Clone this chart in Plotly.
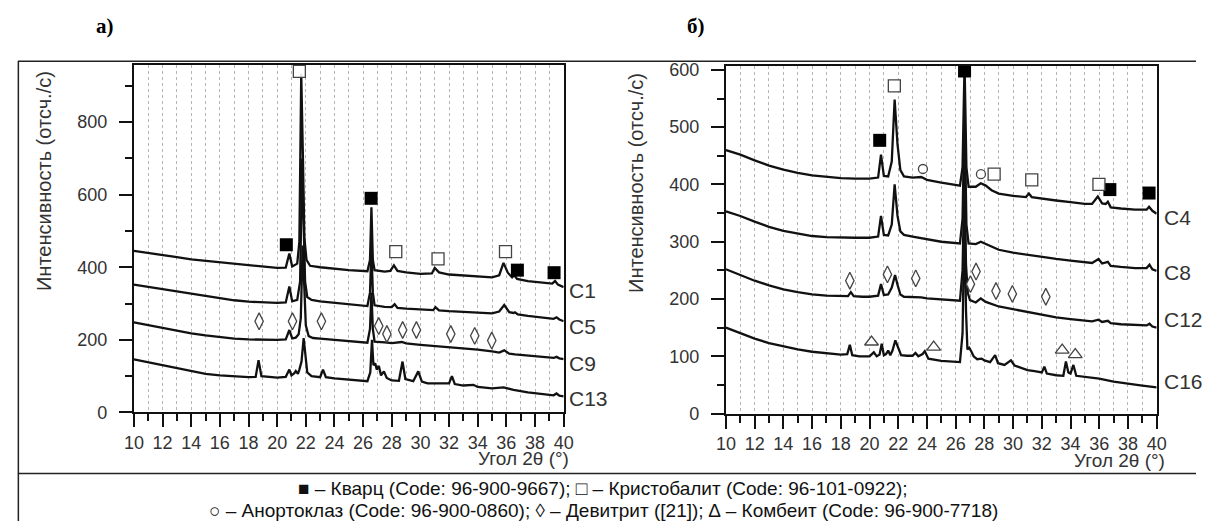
import plotly.graph_objects as go

# ---------------- DATA ----------------
# Panel а) : 2θ (deg) and intensity (counts/s)
c1_tt = [10, 11, 12, 13, 14, 15, 16, 17, 18, 19, 20, 20.6, 20.85, 21.05, 21.4, 21.55, 21.68, 21.8, 21.9, 22.05, 22.3,
         23, 24, 25, 26.3, 26.48, 26.58, 26.68, 26.8, 27.5, 27.9, 28.15, 28.4, 29, 30, 30.8, 31.0, 31.3, 32, 33, 34, 35,
         35.5, 35.8, 36.1, 36.4, 36.55, 36.75, 37.5, 38.5, 39.2, 39.4, 39.6, 40]
c1_int = [445, 440, 433, 428, 422, 418, 413, 408, 404, 400, 398, 399, 438, 402, 410, 470, 933, 700, 480, 420, 404,
          400, 396, 392, 389, 420, 565, 420, 392, 388, 390, 405, 390, 386, 382, 383, 398, 386, 380, 377, 374, 372,
          378, 412, 385, 372, 378, 368, 362, 358, 355, 362, 352, 345]

c5_tt = [10, 11, 12, 13, 14, 15, 16, 17, 18, 19, 20, 20.6, 20.85, 21.05, 21.4, 21.6, 21.75, 21.85, 21.95, 22.1, 22.4,
         23, 24, 25, 26.3, 26.48, 26.58, 26.68, 26.8, 27.5, 28, 28.2, 28.4, 29, 30, 30.9, 31.05, 31.3, 32, 33, 34, 35,
         35.5, 35.85, 36.2, 36.5, 36.6, 36.8, 37.5, 38.5, 39.3, 39.5, 39.7, 40]
c5_int = [352, 346, 339, 333, 326, 320, 314, 309, 305, 303, 302, 303, 347, 306, 310, 360, 700, 520, 360, 318, 310,
          306, 302, 298, 293, 330, 450, 330, 295, 291, 290, 298, 288, 286, 283, 282, 290, 281, 279, 277, 275, 273,
          278, 296, 276, 274, 276, 270, 266, 262, 258, 262, 256, 251]

c9_tt = [10, 11, 12, 13, 14, 15, 16, 17, 18, 19, 20, 20.6, 20.85, 21.05, 21.3, 21.5, 21.65, 21.78, 21.88, 22.0, 22.2,
         22.5, 23, 24, 25, 26.3, 26.48, 26.58, 26.68, 26.8, 27.5, 28, 28.7, 29, 30, 31, 32, 33, 34, 35, 35.5, 35.85,
         36.2, 36.6, 37.5, 38.5, 39.3, 39.5, 39.7, 40]
c9_int = [248, 240, 232, 225, 218, 212, 207, 203, 201, 200, 200, 201, 227, 204, 206, 215, 260, 460, 330, 240, 210,
          205, 203, 200, 197, 192, 230, 330, 230, 195, 193, 191, 194, 190, 186, 183, 179, 176, 173, 168, 165, 171,
          162, 160, 156, 152, 150, 153, 149, 147]

c13_tt = [10, 11, 12, 13, 14, 15, 16, 17, 18, 18.5, 18.7, 18.9, 19.5, 20, 20.6, 20.85, 21.0, 21.2, 21.3, 21.45, 21.55,
          21.7, 21.85, 21.95, 22.1, 22.4, 23, 23.2, 23.4, 24, 25, 26.3, 26.5, 26.62, 26.72, 26.85, 26.95, 27.1, 27.25,
          27.45, 27.65, 28, 28.5, 28.75, 28.95, 29.5, 29.85, 30.1, 30.5, 31, 31.5, 32.0, 32.2, 32.4, 33, 33.7, 34, 35,
          35.8, 36.5, 37.5, 38.5, 39.3, 39.5, 39.7, 40]
c13_int = [146, 138, 128, 120, 112, 106, 102, 99, 97, 98, 144, 100, 97, 96, 98, 118, 102, 108, 114, 106, 118,
           140, 205, 170, 110, 100, 97, 118, 97, 94, 91, 86, 110, 200, 130, 135, 118, 128, 102,
           113, 95, 88, 87, 140, 92, 86, 113, 85, 80, 80, 79, 80, 100, 78, 74, 76, 70, 66,
           69, 62, 55, 50, 47, 52, 46, 44]

# Panel б)
c4_tt = [10, 11, 12, 13, 14, 15, 16, 17, 18, 19, 20, 20.6, 20.8, 21.0, 21.3, 21.55, 21.75, 21.95, 22.15, 22.4, 23,
         23.6, 24, 25, 26.3, 26.48, 26.62, 26.75, 26.9, 27.4, 27.75, 28.1, 28.5, 29, 30, 30.9, 31.1, 31.3, 32, 33, 34,
         35, 35.5, 35.9, 36.2, 36.45, 36.6, 36.8, 37.5, 38.5, 39.3, 39.47, 39.7, 40]
c4_int = [460, 452, 442, 433, 426, 420, 416, 413, 411, 410, 410, 412, 452, 415, 414, 440, 548, 470, 425, 414, 412,
          413, 408, 403, 398, 430, 612, 430, 396, 396, 402, 398, 390, 384, 380, 378, 384, 378, 375, 372, 369,
          366, 366, 379, 367, 366, 370, 360, 358, 356, 356, 361, 354, 349]

c8_tt = [10, 11, 12, 13, 14, 15, 16, 17, 18, 19, 20, 20.6, 20.8, 21.0, 21.3, 21.55, 21.75, 21.95, 22.15, 22.4, 23,
         24, 25, 26.3, 26.48, 26.62, 26.75, 26.9, 27.4, 27.75, 28.1, 29, 30, 31, 32, 33, 34, 35, 35.5, 35.95, 36.2,
         36.6, 36.8, 37.5, 38.5, 39.3, 39.5, 39.7, 40]
c8_int = [353, 345, 335, 326, 319, 314, 310, 308, 307, 307, 307, 309, 345, 312, 311, 330, 400, 345, 318, 312, 309,
          304, 300, 297, 340, 530, 330, 297, 296, 300, 296, 286, 281, 277, 273, 270, 267, 264, 263, 270, 262,
          265, 258, 256, 254, 254, 260, 252, 249]

c12_tt = [10, 11, 12, 13, 14, 15, 16, 17, 18, 18.5, 18.7, 18.9, 19.5, 20, 20.6, 20.8, 21.0, 21.3, 21.55, 21.78, 21.95,
          22.15, 22.4, 23, 23.6, 24, 25, 26.3, 26.48, 26.62, 26.72, 26.85, 27.0, 27.4, 27.75, 28.1, 29, 30, 31, 32,
          33, 34, 35, 35.5, 35.95, 36.2, 36.6, 36.8, 37.5, 38.5, 39.3, 39.5, 39.7, 40]
c12_int = [252, 242, 232, 224, 217, 212, 208, 206, 205, 205, 212, 205, 204, 204, 206, 226, 207, 208, 220, 242, 225,
           208, 204, 203, 203, 201, 199, 197, 250, 425, 260, 210, 198, 194, 201, 195, 187, 182, 177, 172,
           168, 165, 162, 161, 164, 160, 162, 158, 156, 155, 154, 157, 152, 150]

c16_tt = [10, 11, 12, 13, 14, 15, 16, 17, 18, 18.45, 18.63, 18.8, 19.3, 20, 20.3, 20.5, 20.7, 20.85, 21.0, 21.15, 21.3,
          21.45, 21.6, 21.8, 22.0, 22.2, 22.6, 23.0, 23.2, 23.4, 23.7, 23.85, 24.1, 24.5, 25, 26.3, 26.48, 26.62, 26.72,
          26.82, 26.95, 27.1, 27.25, 27.5, 27.8, 28, 28.4, 28.75, 28.95, 29.4, 29.85, 30.1, 30.6, 31, 31.5, 32, 32.18,
          32.35, 33, 33.5, 33.68, 33.85, 34.0, 34.2, 34.4, 35, 35.6, 36, 37, 38, 39, 40]
c16_int = [150, 140, 131, 123, 117, 112, 108, 105, 103, 104, 120, 102, 100, 100, 107, 100, 103, 122, 102, 104, 110,
           102, 110, 128, 115, 102, 101, 101, 106, 100, 104, 109, 96, 94, 92, 90, 140, 360, 180,
           112, 115, 108, 100, 95, 96, 93, 90, 102, 88, 85, 93, 84, 79, 76, 74, 72, 82,
           70, 67, 66, 91, 72, 70, 85, 66, 64, 63, 61, 56, 52, 49, 46]

# Sample labels
left_labels = ["C1", "C5", "C9", "C13"]
left_label_y = [337, 238, 136, 37]
right_labels = ["C4", "C8", "C12", "C16"]
right_label_y = [343, 246, 165, 56]

# Phase markers, panel а)
a_quartz_tt = [20.64, 26.56, 36.77, 39.33]
a_quartz_int = [462, 590, 392, 385]
a_crist_tt = [21.55, 28.28, 31.23, 35.94]
a_crist_int = [940, 443, 423, 443]
a_devit_tt = [18.74, 21.07, 23.09, 27.09, 27.66, 28.76, 29.72, 32.12, 33.79, 34.98]
a_devit_int = [251, 251, 251, 238, 216, 227, 227, 216, 211, 198]

# Phase markers, panel б)
b_quartz_tt = [20.71, 26.62, 36.74, 39.47]
b_quartz_int = [477, 598, 391, 385]
b_crist_tt = [21.73, 28.68, 31.3, 35.98]
b_crist_int = [572, 418, 408, 400]
b_anorth_tt = [23.72, 27.76]
b_anorth_int = [427, 418]
b_devit_tt = [18.63, 21.25, 23.22, 27.03, 27.42, 28.81, 29.95, 32.28]
b_devit_int = [232, 243, 236, 226, 248, 214, 209, 204]
b_comb_tt = [20.14, 24.47, 33.42, 34.33]
b_comb_int = [125, 116, 111, 103]

legend_line1 = "■ – Кварц (Code: 96-900-9667); □ – Кристобалит (Code: 96-101-0922);"
legend_line2 = "○ – Анортоклаз (Code: 96-900-0860); ◊ – Девитрит ([21]); ∆ – Комбеит (Code: 96-900-7718)"

# ---------------- FIGURE ----------------
W, H = 1206, 531
FONT = "Liberation Sans, Arial, sans-serif"
TXT = "#333333"

def px_x(p):
    return p / W

def px_y(p):
    return 1 - p / H

fig = go.Figure()

def add_curve(x, y, ax):
    fig.add_trace(go.Scatter(x=x, y=y, mode="lines", xaxis="x" + ax, yaxis="y" + ax,
                             line=dict(color="#111111", width=2.3), hoverinfo="skip", showlegend=False))

for x, y in [(c1_tt, c1_int), (c5_tt, c5_int), (c9_tt, c9_int), (c13_tt, c13_int)]:
    add_curve(x, y, "")
for x, y in [(c4_tt, c4_int), (c8_tt, c8_int), (c12_tt, c12_int), (c16_tt, c16_int)]:
    add_curve(x, y, "2")

def add_markers(x, y, ax, symbol, size, filled):
    if filled:
        mk = dict(symbol=symbol, size=size, color="#000000", line=dict(width=0))
    else:
        mk = dict(symbol=symbol, size=size, color="rgba(255,255,255,0.9)", line=dict(width=1.3, color="#444444"))
    fig.add_trace(go.Scatter(x=x, y=y, mode="markers", xaxis="x" + ax, yaxis="y" + ax, marker=mk,
                             cliponaxis=False, hoverinfo="skip", showlegend=False))

add_markers(a_quartz_tt, a_quartz_int, "", "square", 13, True)
add_markers(a_crist_tt, a_crist_int, "", "square", 12, False)
add_markers(a_devit_tt, a_devit_int, "", "diamond-tall", 12, False)

add_markers(b_quartz_tt, b_quartz_int, "2", "square", 13, True)
add_markers(b_crist_tt, b_crist_int, "2", "square", 12, False)
add_markers(b_anorth_tt, b_anorth_int, "2", "circle", 9, False)
add_markers(b_devit_tt, b_devit_int, "2", "diamond-tall", 12, False)
add_markers(b_comb_tt, b_comb_int, "2", "triangle-up", 12, False)

def xaxis_style(domain, anchor):
    return dict(domain=domain, anchor=anchor, range=[10, 40], tick0=10, dtick=2,
                ticks="outside", ticklen=13, tickwidth=2, tickcolor="#111",
                showline=True, linewidth=2, linecolor="#111", mirror=True,
                showgrid=True, gridcolor="#b5b5b5", griddash="dot", gridwidth=1,
                zeroline=False, tickfont=dict(family=FONT, size=18, color=TXT),
                minor=dict(dtick=1, ticks="outside", ticklen=7, tickwidth=2, tickcolor="#111",
                           showgrid=True, gridcolor="#b5b5b5", griddash="dot", gridwidth=1))

def yaxis_style(domain, anchor, rng, dt):
    return dict(domain=domain, anchor=anchor, range=rng, tick0=0, dtick=dt,
                ticks="outside", ticklen=13, tickwidth=2, tickcolor="#111",
                showline=True, linewidth=2, linecolor="#111", mirror=True, ticklabelstandoff=8,
                showgrid=False, zeroline=False, tickfont=dict(family=FONT, size=18, color=TXT),
                minor=dict(dtick=dt / 2, ticks="outside", ticklen=7, tickwidth=2, tickcolor="#111",
                           showgrid=False))

annotations = []
for lab, yv in zip(left_labels, left_label_y):
    annotations.append(dict(x=40, y=yv, xref="x", yref="y", text=lab, showarrow=False, xanchor="left",
                            xshift=3, font=dict(family=FONT, size=21, color=TXT)))
for lab, yv in zip(right_labels, right_label_y):
    annotations.append(dict(x=40, y=yv, xref="x2", yref="y2", text=lab, showarrow=False, xanchor="left",
                            xshift=5, font=dict(family=FONT, size=21, color=TXT)))

for xc, yc in [(34, 180), (636, 182)]:
    annotations.append(dict(x=px_x(xc), y=px_y(yc), xref="paper", yref="paper", text="Интенсивность (отсч./с)",
                            textangle=-90, showarrow=False, xanchor="center", yanchor="middle",
                            font=dict(family=FONT, size=20, color=TXT)))
for xc, yc in [(522, 467), (1128, 469)]:
    annotations.append(dict(x=px_x(xc), y=px_y(yc), xref="paper", yref="paper", text="Угол 2θ (°)",
                            showarrow=False, xanchor="center", yanchor="middle", borderpad=0,
                            font=dict(family=FONT, size=19, color=TXT)))

for txt, xc in [("а)", 97), ("б)", 698)]:
    annotations.append(dict(x=px_x(xc), y=px_y(21), xref="paper", yref="paper", text="<b>" + txt + "</b>",
                            showarrow=False, xanchor="center", yanchor="middle",
                            font=dict(family="Liberation Serif, Times New Roman, serif", size=21, color="#000")))

for txt, yc in [(legend_line1, 497), (legend_line2, 520)]:
    annotations.append(dict(x=px_x(603), y=px_y(yc), xref="paper", yref="paper", text=txt, showarrow=False,
                            xanchor="center", yanchor="middle",
                            font=dict(family=FONT, size=19, color="#111")))

shapes = [
    dict(type="line", xref="paper", yref="paper", x0=px_x(8), x1=1, y0=px_y(57), y1=px_y(57),
         line=dict(color="#222", width=1.5)),
    dict(type="line", xref="paper", yref="paper", x0=px_x(8), x1=1, y0=px_y(482), y1=px_y(482),
         line=dict(color="#222", width=1.5)),
    dict(type="line", xref="paper", yref="paper", x0=px_x(8.5), x1=px_x(8.5), y0=0, y1=px_y(57),
         line=dict(color="#222", width=1.5)),
]

fig.update_layout(
    width=W, height=H, margin=dict(l=0, r=0, t=0, b=0),
    paper_bgcolor="white", plot_bgcolor="white", showlegend=False,
    xaxis=xaxis_style([px_x(126), px_x(563)], "y"),
    yaxis=yaxis_style([px_y(419), px_y(61)], "x", [0, 957], 200),
    xaxis2=xaxis_style([px_x(728), px_x(1166)], "y2"),
    yaxis2=yaxis_style([px_y(420.3), px_y(61.7)], "x2", [0, 607], 100),
    annotations=annotations, shapes=shapes,
)

fig.write_html("out.html", config={"displayModeBar": False},
               post_script="document.body.style.margin='0';document.body.style.overflow='hidden';")
